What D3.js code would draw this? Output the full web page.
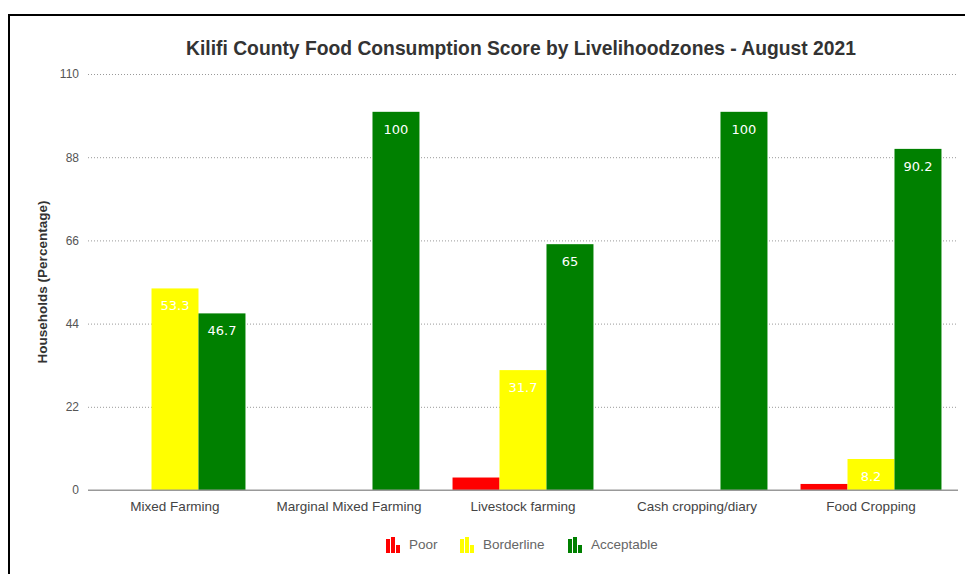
<!DOCTYPE html>
<html>
<head>
<meta charset="utf-8">
<script src="https://cdn.jsdelivr.net/npm/d3@7"></script>
<style>
  html, body { margin: 0; padding: 0; background: #fff; }
  svg { display: block; }
</style>
</head>
<body>
<svg id="chart" width="965" height="574"></svg>
<script>
// Livelihood zones and food consumption score groups (percent of households)
const zones = ["Mixed Farming", "Marginal Mixed Farming", "Livestock farming", "Cash cropping/diary", "Food Cropping"];
const groups = ["Poor", "Borderline", "Acceptable"];
const poor = [0, 0, 3.3, 0, 1.6];
const borderline = [53.3, 0, 31.7, 0, 8.2];
const acceptable = [46.7, 100, 65, 100, 90.2];
const yTicks = [0, 22, 44, 66, 88, 110];
const groupColors = ["#ff0000", "#ffff00", "#008000"];

const values = [poor, borderline, acceptable];
const rows = [];
zones.forEach((z, i) => groups.forEach((g, j) => rows.push({ zone: z, group: g, value: values[j][i] })));

const svg = d3.select("#chart");
const plotLeft = 88, plotRight = 958, plotTop = 74, plotBottom = 490;
const font = "Liberation Sans, Arial, sans-serif";

// outer frame
svg.append("rect")
  .attr("x", 9).attr("y", 15).attr("width", 980).attr("height", 600)
  .attr("fill", "none").attr("stroke", "#000").attr("stroke-width", 2);

const x0 = d3.scaleBand().domain(zones).range([plotLeft, plotRight]).paddingInner(0.19).paddingOuter(0.095);
const x1 = d3.scaleBand().domain(groups).range([0, x0.bandwidth()]);
const y = d3.scaleLinear().domain([0, 110]).range([plotBottom, plotTop]);
const color = d3.scaleOrdinal().domain(groups).range(groupColors);

// title
svg.append("text")
  .attr("x", 521).attr("y", 55)
  .attr("text-anchor", "middle")
  .attr("font-family", font)
  .attr("font-size", 19.3).attr("font-weight", "bold").attr("fill", "#333")
  .text("Kilifi County Food Consumption Score by Livelihoodzones - August 2021");

// gridlines + y tick labels
const yAxis = d3.axisLeft(y).tickValues(yTicks).tickSize(-(plotRight - plotLeft)).tickPadding(9);
const ga = svg.append("g").attr("transform", `translate(${plotLeft},0)`).call(yAxis);
ga.select(".domain").remove();
ga.selectAll(".tick line")
  .attr("stroke", "#999").attr("stroke-width", 1)
  .attr("stroke-dasharray", d => d === 0 ? null : "1,2");
ga.selectAll(".tick text")
  .attr("font-family", font)
  .attr("font-size", 12).attr("fill", "#555");

// y axis title
svg.append("text")
  .attr("transform", `translate(47,${(plotTop + plotBottom) / 2}) rotate(-90)`)
  .attr("text-anchor", "middle")
  .attr("font-family", font)
  .attr("font-size", 13.5).attr("font-weight", "bold").attr("fill", "#333")
  .text("Households (Percentage)");

// bars
svg.append("g").selectAll("rect")
  .data(rows.filter(d => d.value > 0))
  .join("rect")
  .attr("x", d => x0(d.zone) + x1(d.group))
  .attr("y", d => y(d.value))
  .attr("width", x1.bandwidth())
  .attr("height", d => y(0) - y(d.value))
  .attr("fill", d => color(d.group));

// value labels inside bars
svg.append("g").selectAll("text")
  .data(rows.filter(d => d.value >= 5))
  .join("text")
  .attr("x", d => x0(d.zone) + x1(d.group) + x1.bandwidth() / 2)
  .attr("y", d => y(d.value) + 22)
  .attr("text-anchor", "middle")
  .attr("font-family", "DejaVu Sans, sans-serif")
  .attr("font-size", 13).attr("fill", "#fff")
  .text(d => d.value);

// baseline redrawn over bars
svg.append("line")
  .attr("x1", plotLeft).attr("x2", plotRight).attr("y1", y(0)).attr("y2", y(0))
  .attr("stroke", "#999");

// x labels
const xAxis = d3.axisBottom(x0).tickSize(0).tickPadding(11);
const gx = svg.append("g").attr("transform", `translate(0,${plotBottom})`).call(xAxis);
gx.select(".domain").remove();
gx.selectAll(".tick text")
  .attr("font-family", font)
  .attr("font-size", 13.5).attr("fill", "#444");

// legend
const legendX = [386, 460, 568];
const lg = svg.append("g").selectAll("g").data(groups).join("g")
  .attr("transform", (d, i) => `translate(${legendX[i]},537)`);
const iconBars = [[0, 2, 4, 14], [5, 0, 4, 16], [10, 8, 4, 8]];
lg.each(function (g) {
  d3.select(this).selectAll("rect").data(iconBars).join("rect")
    .attr("x", b => b[0]).attr("y", b => b[1]).attr("width", b => b[2]).attr("height", b => b[3])
    .attr("fill", color(g));
});
lg.append("text")
  .attr("x", 23).attr("y", 12)
  .attr("font-family", font)
  .attr("font-size", 13.5).attr("fill", "#666")
  .text(d => d);
</script>
</body>
</html>
